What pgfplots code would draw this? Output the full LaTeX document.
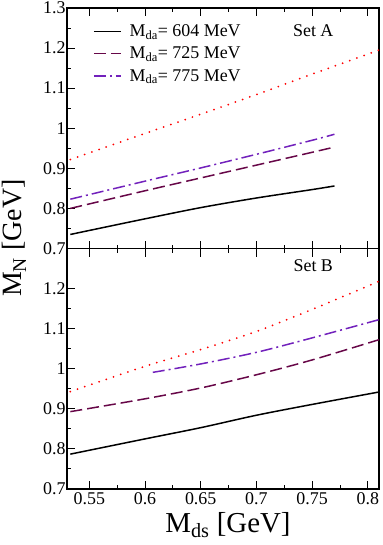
\documentclass[border=0pt]{standalone}
\usepackage{pgfplots}
\pgfplotsset{compat=1.18}
\usepackage{fontspec}
\setmainfont{Liberation Serif}

\definecolor{gmaroon}{RGB}{103,7,72}
\definecolor{gindigo}{RGB}{114,33,188}

\pgfplotsset{
  panel/.style={
    scale only axis, width=312bp, height=240.5bp,
    xmin=0.53, xmax=0.81, ymin=0.7, ymax=1.3,
    xtick={0.55,0.6,...,0.8}, minor x tick num=1,
    minor y tick num=1,
    tick align=inside, xtick pos=both, ytick pos=left,
    major tick length=8bp, minor tick length=4bp,
    axis line style={line width=1.6pt}, tick style={line width=1pt, black},
    /pgf/number format/assume math mode=true,
    /pgf/number format/fixed,
    ticklabel style={font=\fontsize{18}{20}\selectfont},
    yticklabel style={xshift=2bp},
  },
  solidA/.style={black, line width=1.5pt, smooth},
  dashB/.style={gmaroon, line width=1.5pt, smooth, dash pattern=on 12bp off 5bp},
  dotdashC/.style={gindigo, line width=1.5pt, smooth, dash pattern=on 12bp off 4bp on 2bp off 4bp},
  dotD/.style={red, line width=2pt, smooth, line cap=round, dash pattern=on 0pt off 7.6bp},
}

\begin{document}
\begin{tikzpicture}
\begin{axis}[panel, name=top, xticklabels={},
  ytick={0.7,0.8,...,1.3},
  legend style={draw=none, fill=none, at={(0.083,0.94)}, anchor=north west,
    font=\fontsize{18}{20}\selectfont, row sep=5bp, column sep=6bp, inner sep=0pt},
  legend cell align=left,
  legend image code/.code={\draw[line width=1.5pt, #1] (0bp,0bp) -- (27bp,0bp);}]
\addplot[solidA] coordinates {
 (0.533,0.735) (0.55,0.745) (0.6,0.774) (0.65,0.802) (0.7,0.826) (0.75,0.847) (0.77,0.856)};
\addlegendentry{M\textsubscript{da}= 604 MeV}
\addplot[dashB] coordinates {
 (0.533,0.800) (0.6,0.844) (0.65,0.876) (0.7,0.908) (0.75,0.940) (0.77,0.953)};
\addlegendentry{M\textsubscript{da}= 725 MeV}
\addplot[dotdashC] coordinates {
 (0.533,0.823) (0.6,0.868) (0.65,0.901) (0.7,0.935) (0.75,0.970) (0.77,0.985)};
\addlegendentry{M\textsubscript{da}= 775 MeV}
\addplot[dotD] coordinates {
 (0.533,0.922) (0.6,0.987) (0.65,1.035) (0.7,1.084) (0.75,1.135) (0.81,1.195)};
\node[font=\fontsize{18}{20}\selectfont] at (axis cs:0.751,1.2425) {Set A};
\end{axis}
\begin{axis}[panel, name=bot, at={(top.south west)}, anchor=north west,
  ytick={0.7,0.8,...,1.2},
  xticklabels={0.55,0.6,0.65,0.7,0.75,0.8}]
\addplot[solidA] coordinates {
 (0.533,0.787) (0.6,0.825) (0.65,0.853) (0.7,0.884) (0.75,0.911) (0.81,0.942)};
\addplot[dashB] coordinates {
 (0.533,0.893) (0.6,0.925) (0.65,0.952) (0.7,0.985) (0.75,1.022) (0.81,1.0725)};
\addplot[dotdashC] coordinates {
 (0.607,0.991) (0.65,1.012) (0.7,1.041) (0.75,1.077) (0.81,1.1225)};
\addplot[dotD] coordinates {
 (0.533,0.943) (0.6,1.006) (0.65,1.048) (0.7,1.093) (0.75,1.148) (0.81,1.218)};
\node[font=\fontsize{18}{20}\selectfont] at (axis cs:0.751,1.2575) {Set B};
\end{axis}
\node[anchor=base, inner sep=0pt, font=\fontsize{29}{31}\selectfont]
  at ([xshift=5bp, yshift=-43bp]bot.south) {M\textsubscript{ds} [GeV]};
\node[rotate=90, anchor=base, inner sep=0pt, font=\fontsize{28}{30}\selectfont]
  at ([xshift=-45bp, yshift=10.5bp]top.south west) {M\textsubscript{N} [GeV]};
\pgfresetboundingbox
\path[use as bounding box] ([xshift=-67bp, yshift=8bp]top.north west)
  rectangle ([xshift=3bp, yshift=-56bp]bot.south east);
\end{tikzpicture}
\end{document}
